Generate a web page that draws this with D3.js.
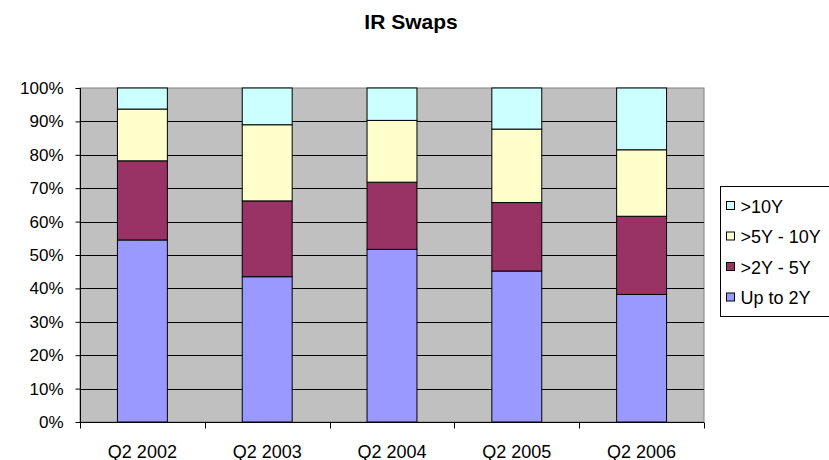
<!DOCTYPE html>
<html>
<head>
<meta charset="utf-8">
<script src="https://cdn.jsdelivr.net/npm/d3@7"></script>
<style>
  body { margin: 0; background: #fff; }
  text { font-family: "Liberation Sans", Arial, sans-serif; fill: #000; }
</style>
</head>
<body>
<svg id="chart"></svg>
<script>
const categories = ["Q2 2002", "Q2 2003", "Q2 2004", "Q2 2005", "Q2 2006"];
const seriesNames = ["Up to 2Y", ">2Y - 5Y", ">5Y - 10Y", ">10Y"];
const upTo2Y   = [54.5, 43.5, 51.7, 45.2, 38.2];
const y2to5    = [23.7, 22.7, 20.1, 20.5, 23.4];
const y5to10   = [15.5, 22.8, 18.5, 22.0, 19.9];
const over10Y  = [6.3, 11.0, 9.7, 12.3, 18.5];
const yTicks = [0, 10, 20, 30, 40, 50, 60, 70, 80, 90, 100];
const colors = ["#9999ff", "#993366", "#ffffcc", "#ccffff"];

const width = 829, height = 460;
const margin = { top: 88, right: 125, bottom: 38, left: 80 };
const plotW = width - margin.left - margin.right;
const plotH = height - margin.top - margin.bottom;

const svg = d3.select("#chart")
              .attr("width", width)
              .attr("height", height);

const table = categories.map((c, i) => ({
  cat: c,
  "Up to 2Y": upTo2Y[i],
  ">2Y - 5Y": y2to5[i],
  ">5Y - 10Y": y5to10[i],
  ">10Y": over10Y[i]
}));
const stacked = d3.stack().keys(seriesNames)(table);

const x = d3.scaleBand()
            .domain(categories)
            .range([margin.left, margin.left + plotW])
            .paddingInner(0.6)
            .paddingOuter(0.3);
const band = d3.scaleBand().domain(categories).range([margin.left, margin.left + plotW]);
const y = d3.scaleLinear().domain([0, 100]).range([margin.top + plotH, margin.top]);

// title
svg.append("text")
   .attr("x", 411)
   .attr("y", 29)
   .attr("text-anchor", "middle")
   .style("font-size", "21px")
   .style("font-weight", "bold")
   .text("IR Swaps");

// plot area
svg.append("rect")
   .attr("x", margin.left)
   .attr("y", margin.top)
   .attr("width", plotW)
   .attr("height", plotH)
   .attr("fill", "#c0c0c0")
   .attr("stroke", "#808080");

// gridlines
svg.append("g")
   .selectAll("line")
   .data(yTicks.filter(t => t > 0 && t < 100))
   .join("line")
   .attr("x1", margin.left)
   .attr("x2", margin.left + plotW)
   .attr("y1", d => Math.round(y(d)) + 0.5)
   .attr("y2", d => Math.round(y(d)) + 0.5)
   .attr("stroke", "#000");

// bars
svg.append("g")
   .selectAll("g")
   .data(stacked)
   .join("g")
   .attr("fill", (d, i) => colors[i])
   .selectAll("rect")
   .data(d => d)
   .join("rect")
   .attr("x", d => x(d.data.cat))
   .attr("y", d => y(d[1]))
   .attr("width", x.bandwidth())
   .attr("height", d => y(d[0]) - y(d[1]))
   .attr("stroke", "#000")
   .attr("stroke-width", 1);

// y axis
const yAxis = d3.axisLeft(y)
                .tickValues(yTicks)
                .tickFormat(d => d + "%")
                .tickSize(5)
                .tickPadding(12);
const gy = svg.append("g")
              .attr("transform", `translate(${margin.left + 0.5},0)`)
              .call(yAxis);
gy.select(".domain").attr("stroke", "#000").attr("d", `M0,${margin.top}V${margin.top + plotH}`);
gy.selectAll("text").style("font-size", "17px").attr("font-family", null);

// x axis
const gx = svg.append("g")
              .attr("transform", `translate(0,${margin.top + plotH + 0.5})`);
gx.append("line")
  .attr("x1", margin.left)
  .attr("x2", margin.left + plotW)
  .attr("stroke", "#000");
const bounds = categories.map(c => band(c)).concat([margin.left + plotW]);
gx.selectAll(".tick")
  .data(bounds)
  .join("line")
  .attr("class", "tick")
  .attr("x1", d => Math.round(d) + 0.5)
  .attr("x2", d => Math.round(d) + 0.5)
  .attr("y1", 0)
  .attr("y2", 6)
  .attr("stroke", "#000");
gx.selectAll(".lbl")
  .data(categories)
  .join("text")
  .attr("class", "lbl")
  .attr("x", d => band(d) + band.bandwidth() / 2)
  .attr("y", 35)
  .attr("text-anchor", "middle")
  .style("font-size", "18px")
  .text(d => d);

// legend
const legend = svg.append("g").attr("transform", "translate(720.5,186.5)");
legend.append("rect")
      .attr("width", 130)
      .attr("height", 130)
      .attr("fill", "#fff")
      .attr("stroke", "#000");
const items = seriesNames.slice().reverse();
const item = legend.selectAll(".item")
                   .data(items)
                   .join("g")
                   .attr("class", "item")
                   .attr("transform", (d, i) => `translate(6,${20 + i * 30.5})`);
item.append("rect")
    .attr("x", 0)
    .attr("y", -5)
    .attr("width", 8)
    .attr("height", 8)
    .attr("fill", d => colors[seriesNames.indexOf(d)])
    .attr("stroke", "#000");
item.append("text")
    .attr("x", 14)
    .attr("y", 6)
    .style("font-size", "18px")
    .text(d => d);
</script>
</body>
</html>
